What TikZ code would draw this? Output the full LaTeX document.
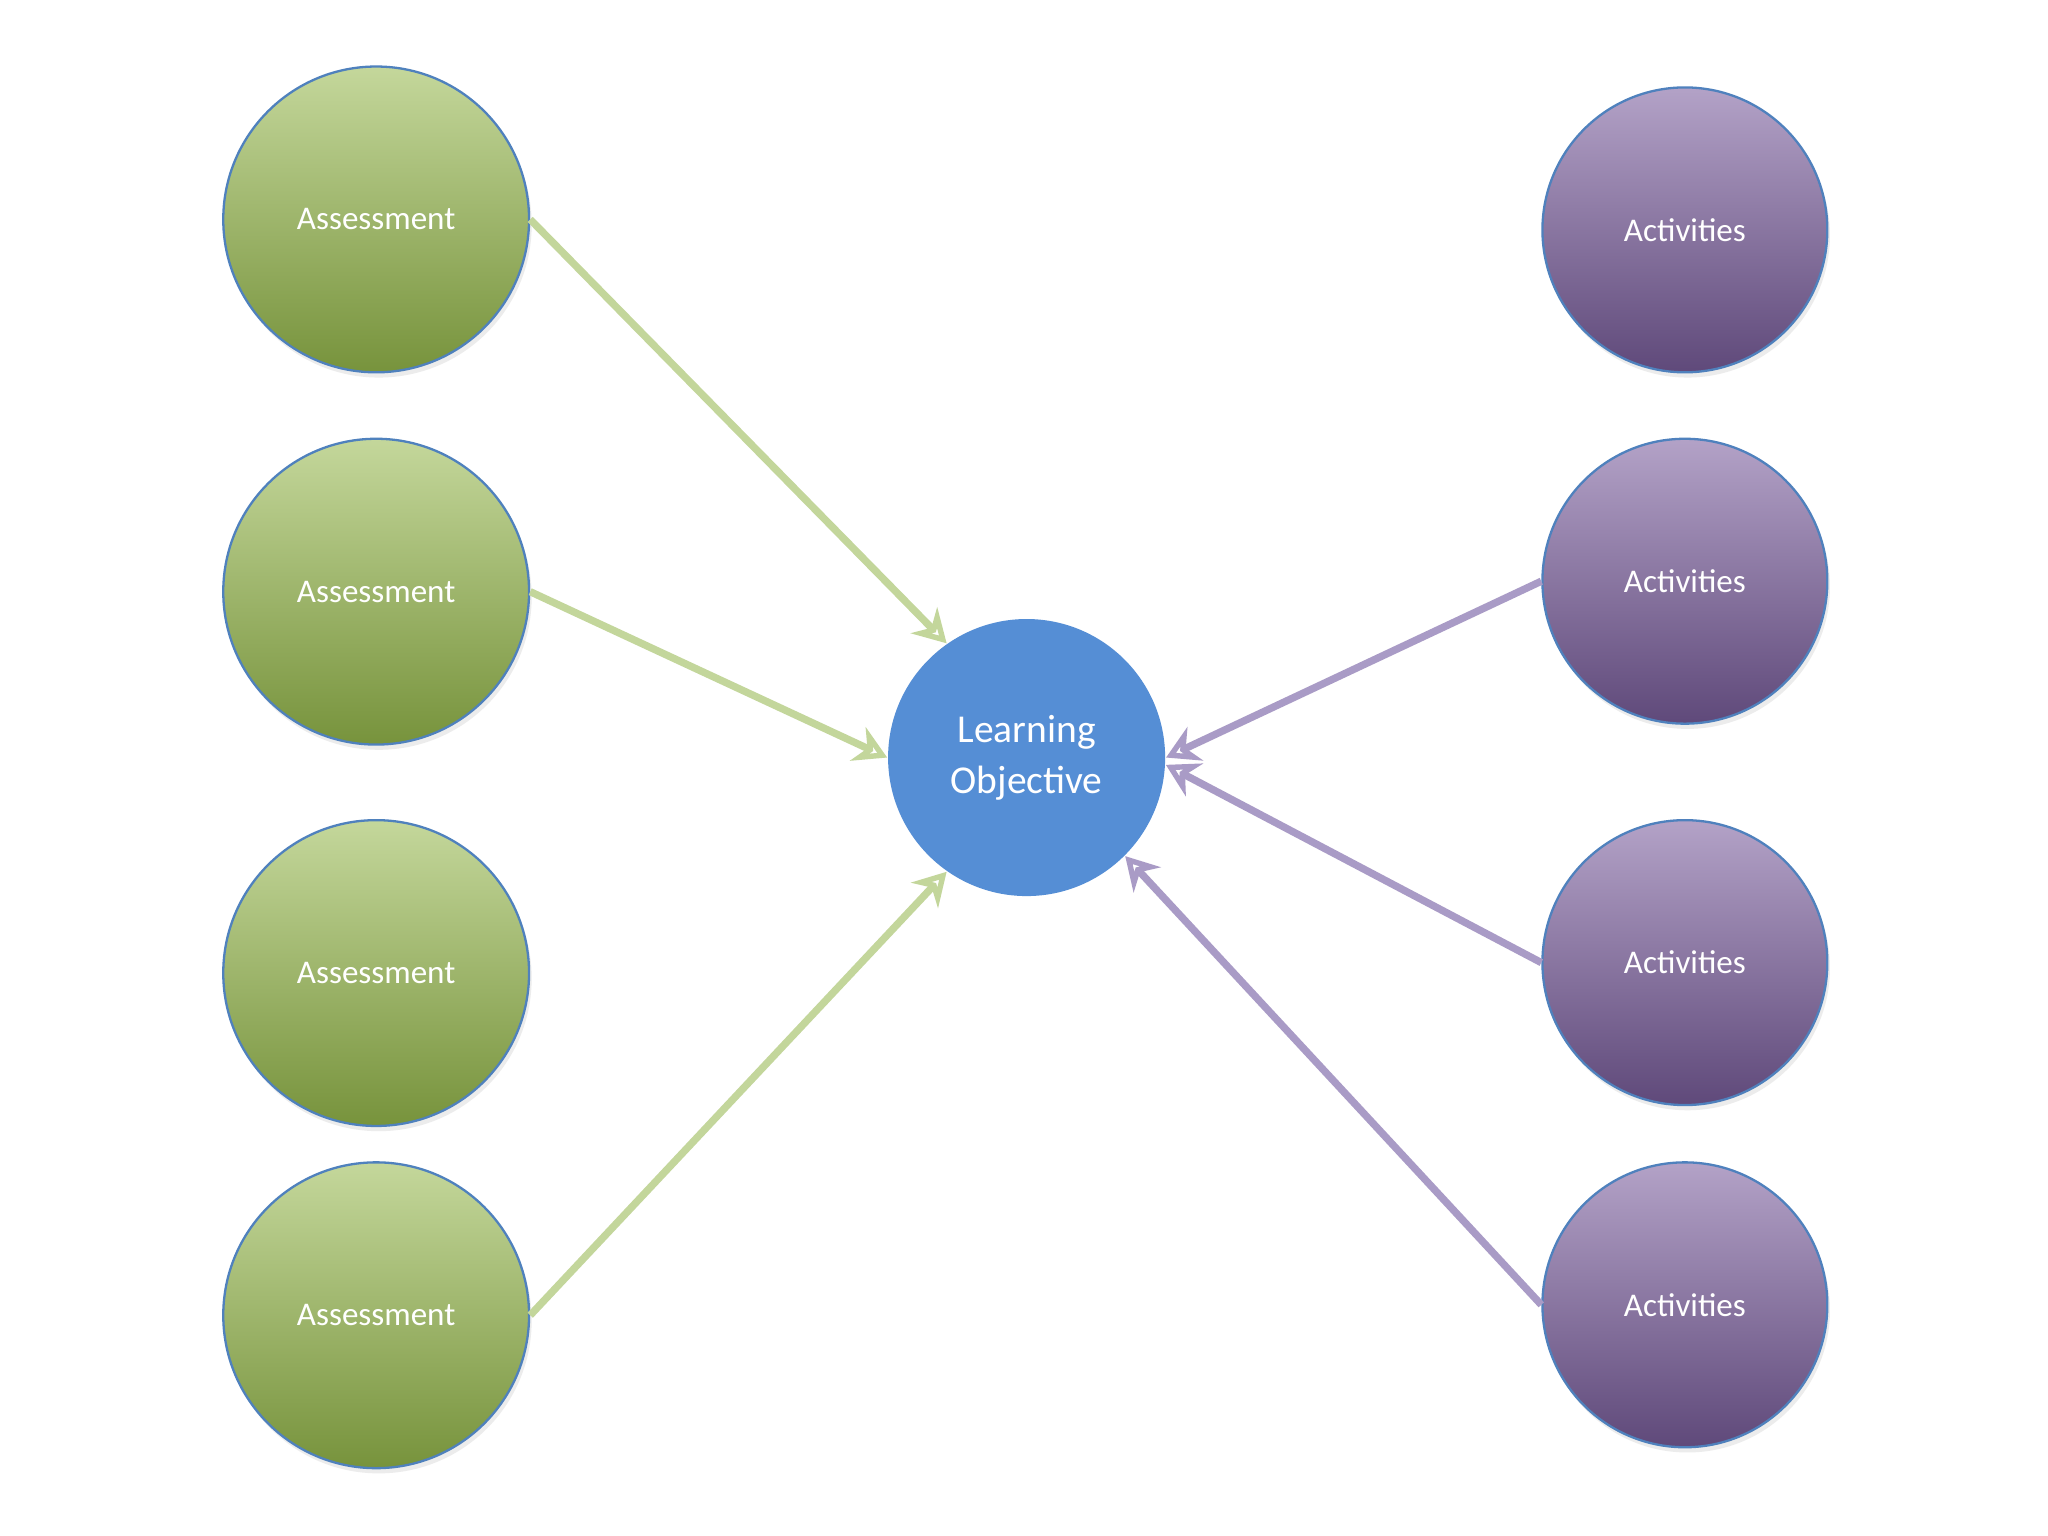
\documentclass[tikz,border=0pt]{standalone}
\usepackage{fontspec}
\setmainfont{Carlito}
\usetikzlibrary{arrows.meta,shadows}
\definecolor{gtop}{HTML}{C4D79B}\definecolor{gbot}{HTML}{77933C}
\definecolor{ptop}{HTML}{B3A2C7}\definecolor{pbot}{HTML}{5F497A}
\definecolor{bord}{HTML}{4F81BD}\definecolor{lo}{HTML}{558ED5}
\definecolor{garr}{HTML}{C3D69B}\definecolor{parr}{HTML}{A99BC6}
\tikzset{
 assess/.style={circle,draw=bord,line width=0.5pt,minimum size=2.34cm,top color=gtop,bottom color=gbot,text=white,font=\fontsize{7.2}{8}\selectfont,drop shadow={opacity=0.15,shadow xshift=0.02cm,shadow yshift=-0.04cm}},
 activ/.style={circle,draw=bord,line width=0.5pt,minimum size=2.18cm,top color=ptop,bottom color=pbot,text=white,font=\fontsize{7.2}{8}\selectfont,drop shadow={opacity=0.15,shadow xshift=0.02cm,shadow yshift=-0.04cm}},
 lobj/.style={circle,fill=lo,minimum size=2.12cm,text=white,align=center,font=\fontsize{8.6}{11}\selectfont},
 garrow/.style={draw=garr,line width=1.6pt,-{Stealth[open,length=7pt,width=8pt]}},
 parrow/.style={draw=parr,line width=1.6pt,-{Stealth[open,length=7pt,width=8pt]}}
}
\begin{document}
\begin{tikzpicture}[x=0.01cm,y=-0.01cm]
\useasboundingbox[fill=white] (0,0) rectangle (1568,1176);
\node[assess] (a1) at (288,168) {Assessment};
\node[assess] (a2) at (288,453) {Assessment};
\node[assess] (a3) at (288,745) {Assessment};
\node[assess] (a4) at (288,1007) {Assessment};
\node[activ] (b1) at (1290,176) {Activities};
\node[activ] (b2) at (1290,445) {Activities};
\node[activ] (b3) at (1290,737) {Activities};
\node[activ] (b4) at (1290,999) {Activities};
\node[lobj] (lo) at (786,580) {Learning\\Objective};
\draw[garrow] (a1.east) -- (lo.125);
\draw[garrow] (a2.east) -- (lo.180);
\draw[garrow] (a4.east) -- (lo.235);
\draw[parrow] (b2.west) -- (lo.0);
\draw[parrow] (b3.west) -- (lo.-3);
\draw[parrow] (b4.west) -- (lo.-45);
\end{tikzpicture}
\end{document}
